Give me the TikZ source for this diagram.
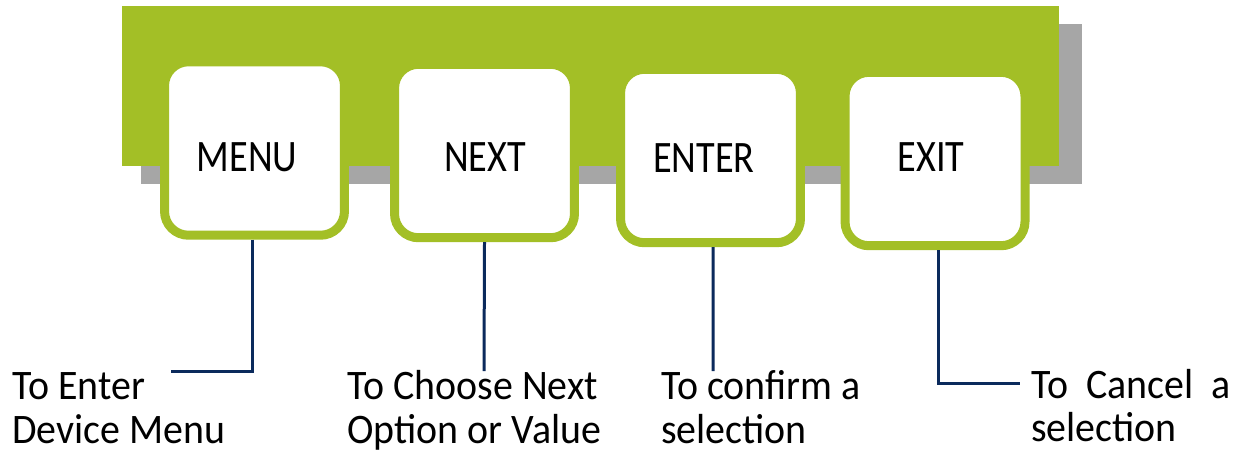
\documentclass[tikz,border=0pt]{standalone}
\usepackage{fontspec}
\setmainfont{Carlito}
\newfontfamily\btnfont[FakeStretch=0.85]{Carlito}
\newfontfamily\notefont[FakeStretch=0.95]{Carlito}
\usetikzlibrary{positioning}
\definecolor{panelgreen}{HTML}{A3BF26}
\definecolor{shadowgray}{HTML}{A6A6A6}
\definecolor{wirenavy}{HTML}{0B2A5C}

\begin{document}
\begin{tikzpicture}[x=0.02cm,y=-0.02cm,
  btn/.style={draw=panelgreen,line width=0.18cm,fill=white,rounded corners=0.48cm,
    minimum width=3.6cm,minimum height=3.47cm,inner sep=0pt},
  btnlabel/.style={font=\btnfont\fontsize{25.6}{26}\selectfont,inner sep=0pt},
  note/.style={font=\notefont\fontsize{23.9}{24.5}\selectfont,align=left,inner sep=0pt,anchor=base west},
  wire/.style={draw=wirenavy,line width=0.06cm}]

\useasboundingbox (0,0) rectangle (1246,454);

% panel and its shadow
\fill[shadowgray] (141,24) rectangle (1082,184);
\fill[panelgreen] (122,6) rectangle (1059,166);

% buttons
\node[btn] (menu) at (254.5,148.5) {};
\node[btn] (next) at (484.5,151) {};
\node[btn] (enter) at (710.5,156) {};
\node[btn] (exit) at (935,159) {};

\node[btnlabel] (menu-t) at (247,157.5) {MENU};
\node[btnlabel] (next-t) at (485,157) {NEXT};
\node[btnlabel] (enter-t) at (704,158) {ENTER};
\node[btnlabel] (exit-t) at (931,157.5) {EXIT};

% notes (base = last line)
\node[note] (menu-n) at (12,443) {To Enter\\Device Menu};
\node[note] (next-n) at (347,443) {To Choose Next\\Option or Value};
\node[note] (enter-n) at (661,443) {To confirm a\\selection};
\node[note,text width=3.98cm,align=justify] (exit-n) at (1031,398) {To Cancel a \mbox{selection}};

% wires
\coordinate (menu-c) at (171,371);
\draw[wire] ([xshift=-0.05cm]menu.south) |- (menu-c);
\coordinate (next-c) at (484,371);
\draw[wire] (next.south) -- (next-c);
\coordinate (enter-c) at (713,371);
\draw[wire] ([xshift=0.05cm]enter.south) -- (enter-c);
\coordinate (exit-c) at (1020,383);
\draw[wire] ([xshift=0.06cm]exit.south) |- (exit-c);

\end{tikzpicture}
\end{document}
